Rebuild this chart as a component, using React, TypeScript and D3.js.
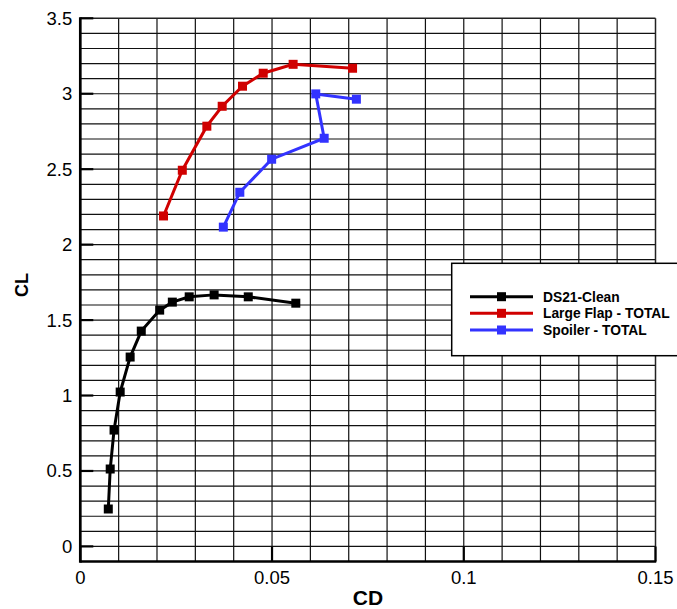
import React from "react";
import * as d3 from "d3";

const cleanCD = [0.0073, 0.0078, 0.0088, 0.0104, 0.013, 0.0159, 0.0207, 0.024, 0.0284, 0.0349, 0.0438, 0.0562];
const cleanCL = [0.248, 0.513, 0.771, 1.023, 1.255, 1.427, 1.566, 1.619, 1.654, 1.667, 1.654, 1.612];
const flapCD = [0.0217, 0.0266, 0.033, 0.037, 0.0423, 0.0477, 0.0555, 0.071];
const flapCL = [2.19, 2.493, 2.785, 2.917, 3.05, 3.136, 3.195, 3.169];
const spoilerCD = [0.0373, 0.0416, 0.0499, 0.0636, 0.0614, 0.072];
const spoilerCL = [2.116, 2.347, 2.566, 2.705, 2.999, 2.964];

const seriesNames = ["DS21-Clean", "Large Flap - TOTAL", "Spoiler - TOTAL"];
const seriesColors = ["#000000", "#d00000", "#3333ff"];

const xTicks = [0, 0.05, 0.1, 0.15];
const xTickLabels = ["0", "0.05", "0.1", "0.15"];
const yTicks = [0, 0.5, 1, 1.5, 2, 2.5, 3, 3.5];
const yTickLabels = ["0", "0.5", "1", "1.5", "2", "2.5", "3", "3.5"];

const W = 677;
const H = 609;
const left = 80.3;
const right = 655.5;
const top = 18.3;
const bottom = 561.5;

export default function App() {
  const x = d3.scaleLinear().domain([0, 0.15]).range([left, right]);
  const y = d3.scaleLinear().domain([-0.1, 3.5]).range([bottom, top]);

  const series = [
    { cd: cleanCD, cl: cleanCL },
    { cd: flapCD, cl: flapCL },
    { cd: spoilerCD, cl: spoilerCL },
  ];

  const line = d3
    .line<[number, number]>()
    .x((d) => x(d[0]))
    .y((d) => y(d[1]));

  const xGrid = d3.range(1, 15).map((i) => i * 0.01);
  const yGrid = d3.range(0, 35).map((i) => i * 0.1);

  const font = "'Liberation Sans', Arial, sans-serif";
  const ms = 9;

  const legX = 451.7;
  const legY = 263.3;
  const legRows = [296.7, 313.3, 330];

  return (
    <svg
      width={W}
      height={H}
      style={{ position: "absolute", left: 0, top: 0, background: "#fff" }}
    >
      <rect x={0} y={0} width={W} height={H} fill="#fff" />
      {/* grid */}
      {xGrid.map((v, i) => (
        <line key={"xg" + i} x1={x(v)} x2={x(v)} y1={top} y2={bottom} stroke="#111" strokeWidth={1.2} />
      ))}
      {yGrid.map((v, i) => (
        <line key={"yg" + i} x1={left} x2={right} y1={y(v)} y2={y(v)} stroke="#111" strokeWidth={1.2} />
      ))}
      {/* frame */}
      <line x1={left} x2={right} y1={top} y2={top} stroke="#222" strokeWidth={1.5} />
      <line x1={right} x2={right} y1={top} y2={bottom} stroke="#222" strokeWidth={1.5} />
      <line x1={left} x2={left} y1={top - 1} y2={bottom + 1.25} stroke="#000" strokeWidth={2.7} />
      <line x1={left} x2={right + 0.75} y1={bottom} y2={bottom} stroke="#000" strokeWidth={2.5} />
      {/* ticks */}
      {yTicks.map((v, i) => (
        <line key={"yt" + i} x1={left} x2={left + 13} y1={y(v)} y2={y(v)} stroke="#000" strokeWidth={2.2} />
      ))}
      {xTicks.map((v, i) => (
        <line key={"xt" + i} x1={x(v)} x2={x(v)} y1={bottom} y2={bottom - 15} stroke="#000" strokeWidth={2.2} />
      ))}
      {/* tick labels */}
      {yTicks.map((v, i) => (
        <text
          key={"yl" + i}
          x={left - 8}
          y={y(v)}
          dy="0.35em"
          textAnchor="end"
          fontFamily={font}
          fontSize={18.5}
          fill="#000"
        >
          {yTickLabels[i]}
        </text>
      ))}
      {xTicks.map((v, i) => (
        <text
          key={"xl" + i}
          x={x(v)}
          y={584}
          textAnchor="middle"
          fontFamily={font}
          fontSize={18.5}
          fill="#000"
        >
          {xTickLabels[i]}
        </text>
      ))}
      {/* axis titles */}
      <text x={368} y={605} textAnchor="middle" fontFamily={font} fontSize={21} fontWeight="bold">
        CD
      </text>
      <text
        transform={`translate(28,285) rotate(-90)`}
        textAnchor="middle"
        fontFamily={font}
        fontSize={18}
        fontWeight="bold"
      >
        CL
      </text>
      {/* series */}
      {series.map((s, si) => {
        const pts: [number, number][] = s.cd.map((c, i) => [c, s.cl[i]]);
        return (
          <g key={"s" + si}>
            <path d={line(pts) || ""} fill="none" stroke={seriesColors[si]} strokeWidth={3} />
            {pts.map((p, i) => (
              <rect
                key={i}
                x={x(p[0]) - ms / 2}
                y={y(p[1]) - ms / 2}
                width={ms}
                height={ms}
                fill={seriesColors[si]}
              />
            ))}
          </g>
        );
      })}
      {/* legend */}
      <rect x={legX} y={legY} width={240} height={92.4} fill="#fff" stroke="#000" strokeWidth={1.5} />
      {seriesNames.map((name, i) => (
        <g key={"lg" + i}>
          <line x1={470} x2={533} y1={legRows[i]} y2={legRows[i]} stroke={seriesColors[i]} strokeWidth={3} />
          <rect x={501.5 - 4.5} y={legRows[i] - 4.5} width={9} height={9} fill={seriesColors[i]} />
          <text x={543} y={legRows[i]} dy="0.35em" fontFamily={font} fontSize={13.8} fontWeight="bold">
            {name}
          </text>
        </g>
      ))}
    </svg>
  );
}
